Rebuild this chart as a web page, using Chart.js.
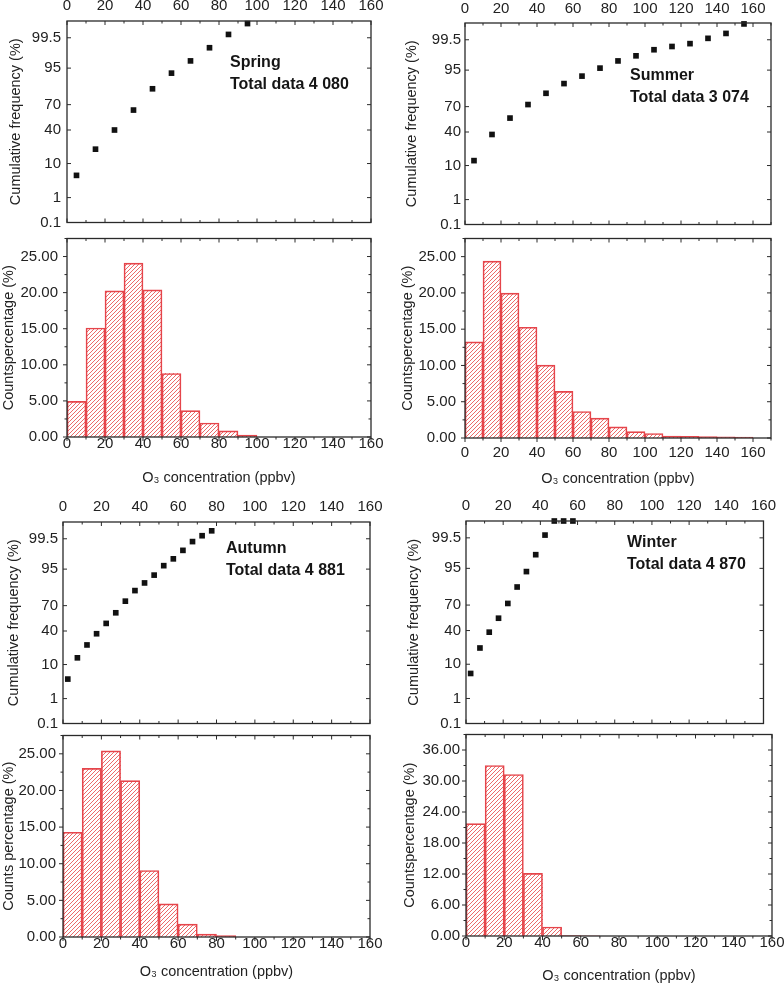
<!DOCTYPE html>
<html>
<head>
<meta charset="utf-8">
<script src="https://cdn.jsdelivr.net/npm/chart.js@4.4.1/dist/chart.umd.min.js"></script>
<style>
  body { margin: 0; background: #fff; }
  #wrap { position: relative; width: 784px; height: 987px; overflow: hidden; }
  canvas { position: absolute; }
</style>
</head>
<body>
<div id="wrap">
  <canvas id="springCum"></canvas>
  <canvas id="springHist"></canvas>
  <canvas id="summerCum"></canvas>
  <canvas id="summerHist"></canvas>
  <canvas id="autumnCum"></canvas>
  <canvas id="autumnHist"></canvas>
  <canvas id="winterCum"></canvas>
  <canvas id="winterHist"></canvas>
</div>
<script>
// ---- data ----
const probTickLabels = [0.1, 1, 10, 40, 70, 95, 99.5];

const springCumX = [5, 15, 25, 35, 45, 55, 65, 75, 85, 95];
const springCumPct = [5.0, 20.0, 40.0, 64.0, 84.4, 93.2, 96.9, 98.84, 99.63, 99.87];
const springBinMid = [5, 15, 25, 35, 45, 55, 65, 75, 85, 95];
const springPct = [4.93, 15.1, 20.25, 24.08, 20.38, 8.8, 3.65, 1.94, 0.84, 0.26];

const summerCumX = [5, 15, 25, 35, 45, 55, 65, 75, 85, 95, 105, 115, 125, 135, 145, 155];
const summerCumPct = [12.9, 37.1, 56.9, 72.2, 82.5, 89.1, 92.8, 95.6, 97.3, 98.14, 98.84, 99.11, 99.3, 99.56, 99.72, 99.89];
const summerBinMid = [5, 15, 25, 35, 45, 55, 65, 75, 85, 95, 105, 115, 125, 135, 145, 155];
const summerPct = [13.25, 24.38, 19.98, 15.27, 10.04, 6.43, 3.65, 2.73, 1.54, 0.88, 0.62, 0.26, 0.22, 0.18, 0.15, 0.13];

const autumnCumX = [2.5, 7.5, 12.5, 17.5, 22.5, 27.5, 32.5, 37.5, 42.5, 47.5, 52.5, 57.5, 62.5, 67.5, 72.5, 77.5];
const autumnCumPct = [4.2, 14.1, 24.8, 36.8, 49.2, 62.0, 74.6, 83.8, 88.9, 92.8, 96.0, 97.5, 98.68, 99.36, 99.62, 99.76];
const autumnBinMid = [5, 15, 25, 35, 45, 55, 65, 75, 85];
const autumnPct = [14.3, 23.02, 25.4, 21.35, 9.07, 4.53, 1.76, 0.4, 0.18];

const winterCumX = [2.5, 7.5, 12.5, 17.5, 22.5, 27.5, 32.5, 37.5, 42.5, 47.5, 52.5, 57.5];
const winterCumPct = [5.9, 21.6, 38.1, 54.9, 71.7, 85.9, 93.9, 98.04, 99.61, 99.9, 99.9, 99.9];
const winterBinMid = [5, 15, 25, 35, 45, 55, 65];
const winterPct = [21.75, 33.0, 31.25, 12.13, 1.75, 0.06, 0.04];

// ---- helpers ----
const FONT = "'Liberation Sans', Arial, sans-serif";
Chart.defaults.font.family = FONT;
Chart.defaults.color = '#222';
Chart.defaults.animation = false;
Chart.defaults.plugins.legend.display = false;
Chart.defaults.plugins.tooltip.enabled = false;

// inverse normal CDF (Acklam), for the probability axis
function probit(p) {
  const a = [-39.69683028665376, 220.9460984245205, -275.9285104469687, 138.357751867269, -30.66479806614716, 2.506628277459239];
  const b = [-54.47609879822406, 161.5858368580409, -155.6989798598866, 66.80131188771972, -13.28068155288572];
  const c = [-0.007784894002430293, -0.3223964580411365, -2.400758277161838, -2.549732539343734, 4.374664141464968, 2.938163982698783];
  const d = [0.007784695709041462, 0.3224671290700398, 2.445134137142996, 3.754408661907416];
  const lo = 0.02425;
  if (p < lo) {
    const q = Math.sqrt(-2 * Math.log(p));
    return (((((c[0]*q+c[1])*q+c[2])*q+c[3])*q+c[4])*q+c[5]) / ((((d[0]*q+d[1])*q+d[2])*q+d[3])*q+1);
  }
  if (p > 1 - lo) {
    const q = Math.sqrt(-2 * Math.log(1 - p));
    return -(((((c[0]*q+c[1])*q+c[2])*q+c[3])*q+c[4])*q+c[5]) / ((((d[0]*q+d[1])*q+d[2])*q+d[3])*q+1);
  }
  const q = p - 0.5, r = q * q;
  return (((((a[0]*r+a[1])*r+a[2])*r+a[3])*r+a[4])*r+a[5])*q / (((((b[0]*r+b[1])*r+b[2])*r+b[3])*r+b[4])*r+1);
}

// "///" hatch inside every bar, pixel-stepped so it stays crisp
const barHatch = {
  id: 'barHatch',
  beforeDatasetsDraw(chart, args, o) {
    if (!o.color) return;
    const { ctx } = chart;
    const meta = chart.getDatasetMeta(0);
    ctx.save();
    ctx.fillStyle = o.color;
    meta.data.forEach(bar => {
      const { x, y, base, width } = bar.getProps(['x', 'y', 'base', 'width'], true);
      const l = Math.round(x - width / 2), r = Math.round(x + width / 2);
      const top = Math.round(Math.min(y, base)), bot = Math.round(Math.max(y, base));
      for (let py = top; py < bot; py++) {
        for (let px = l; px < r; px++) {
          if ((px + py) % o.gap === 0) ctx.fillRect(px, py, 1, 1);
        }
      }
    });
    ctx.restore();
  }
};

// box + inward/outward tick marks, Origin style
const frameTicks = {
  id: 'frameTicks',
  afterDatasetsDraw(chart, args, o) {
    const { ctx, chartArea: a } = chart;
    const xs = chart.scales.x, ys = chart.scales.y;
    const dir = s => s === 'in' ? 1 : s === 'out' ? -1 : 0;
    const seg = (x1, y1, x2, y2) => { ctx.beginPath(); ctx.moveTo(x1, y1); ctx.lineTo(x2, y2); ctx.stroke(); };
    ctx.save();
    ctx.strokeStyle = '#2a2a2a';
    ctx.lineWidth = 1.3;
    ctx.strokeRect(a.left, a.top, a.width, a.height);
    ctx.lineWidth = 1;
    for (let v = xs.min; v <= xs.max + 1e-9; v += o.xMinor) {
      const px = xs.getPixelForValue(v);
      const len = Math.abs(v % o.xMajor) < 1e-9 ? 4 : 2.5;
      seg(px, a.top, px, a.top + dir(o.top) * len);
      seg(px, a.bottom, px, a.bottom - dir(o.bottom) * len);
    }
    let yMarks;
    if (o.yMinor) {
      yMarks = [];
      for (let v = ys.min; v <= ys.max + 1e-9; v += o.yMinor) yMarks.push([ys.getPixelForValue(v), Math.abs(v % o.yMajor) < 1e-9]);
    } else {
      yMarks = ys.ticks.map(t => [ys.getPixelForValue(t.value), true]);
    }
    yMarks.forEach(([py, major]) => {
      const len = major ? 4 : 2.5;
      seg(a.left, py, a.left + dir(o.left) * len, py);
      seg(a.right, py, a.right - dir(o.right) * len, py);
    });
    ctx.restore();
  }
};

const seasonNote = {
  id: 'seasonNote',
  afterDraw(chart, args, o) {
    if (!o.lines) return;
    const { ctx, chartArea: a } = chart;
    ctx.save();
    ctx.font = 'bold 16px ' + FONT;
    ctx.fillStyle = '#151515';
    ctx.textBaseline = 'middle';
    o.lines.forEach((t, i) => ctx.fillText(t, a.left + o.dx, a.top + o.dy + i * 22));
    ctx.restore();
  }
};
Chart.register(barHatch, frameTicks, seasonNote);

function place(id, L) {
  const c = document.getElementById(id);
  c.width = L.w; c.height = L.h;
  c.style.left = L.x + 'px';
  c.style.top = L.y + 'px';
  return c;
}

const tickFont = { size: 15, lineHeight: 1 };
const titleFont = { size: 14.5 };

function makeCum(id, L, xs, pct, xMax, note) {
  const ctx = place(id, L);
  return new Chart(ctx, {
    type: 'scatter',
    data: {
      datasets: [{
        data: xs.map((x, i) => ({ x: x, y: probit(pct[i] / 100) })),
        pointStyle: 'rect',
        pointRadius: 4,
        backgroundColor: '#111',
        borderColor: '#111',
        borderWidth: 0,
        clip: false
      }]
    },
    options: {
      responsive: false,
      devicePixelRatio: 1,
      layout: { padding: { left: 0, right: L.padR, top: 0, bottom: L.padB } },
      scales: {
        x: {
          type: 'linear', position: 'top', min: 0, max: xMax,
          grid: { display: false, drawTicks: false }, border: { display: false },
          ticks: { stepSize: 20, includeBounds: false, autoSkip: false, maxRotation: 0, padding: L.xTickPad, font: tickFont },
          afterFit: s => { s.height = L.axisH; }
        },
        y: {
          position: 'left', min: probit(0.001), max: probit(0.999),
          grid: { display: false, drawTicks: false }, border: { display: false },
          afterBuildTicks: s => { s.ticks = probTickLabels.map(p => ({ value: probit(p / 100) })); },
          ticks: { autoSkip: false, padding: L.tickPad, font: tickFont, callback: (v, i) => String(probTickLabels[i]) },
          title: { display: true, text: 'Cumulative frequency (%)', font: titleFont, padding: { top: L.titlePad, bottom: 0 } },
          afterFit: s => { s.width = L.axisW; }
        }
      },
      plugins: {
        frameTicks: { xMajor: 20, xMinor: 10, top: 'in', bottom: 'in', left: 'in', right: 'in' },
        seasonNote: note
      }
    }
  });
}

function makeHist(id, L, mids, pct, xMax, yMax, yStep, yTitle) {
  const ctx = place(id, L);
  return new Chart(ctx, {
    type: 'bar',
    data: {
      datasets: [{
        data: mids.map((x, i) => ({ x: x, y: pct[i] })),
        backgroundColor: 'rgba(255,255,255,0)',
        borderColor: '#e5454b',
        borderWidth: 1,
        barPercentage: 1,
        categoryPercentage: 1
      }]
    },
    options: {
      responsive: false,
      devicePixelRatio: 1,
      layout: { padding: { left: 0, right: L.padR, top: L.padT, bottom: 0 } },
      scales: {
        x: {
          type: 'linear', position: 'bottom', min: 0, max: xMax, offset: false,
          grid: { display: false, drawTicks: false }, border: { display: false },
          ticks: { stepSize: 20, includeBounds: false, autoSkip: false, maxRotation: 0, padding: L.xTickPad, font: tickFont },
          title: { display: true, text: 'O\u2083 concentration (ppbv)', font: titleFont, padding: { top: 0, bottom: L.xTitlePad } },
          afterFit: s => { s.height = L.axisH; }
        },
        y: {
          position: 'left', min: 0, max: yMax,
          grid: { display: false, drawTicks: false }, border: { display: false },
          ticks: { stepSize: yStep, includeBounds: false, autoSkip: false, padding: L.tickPad, font: tickFont, callback: v => v.toFixed(2) },
          title: { display: true, text: yTitle, font: titleFont, padding: { top: L.titlePad, bottom: 0 } },
          afterFit: s => { s.width = L.axisW; }
        }
      },
      plugins: {
        barHatch: { color: '#ec6a6a', gap: 4 },
        frameTicks: { xMajor: 20, xMinor: 10, yMajor: yStep, yMinor: yStep / 2, top: 'in', bottom: 'out', left: 'out', right: 'in' }
      }
    }
  });
}

// ---- panels ----
makeCum('springCum', { x: 0, y: 0, w: 392, h: 236, axisW: 67, axisH: 21, padR: 21, padB: 7, tickPad: 6, titlePad: 7, xTickPad: 8 },
  springCumX, springCumPct, 160, { lines: ['Spring', 'Total data 4 080'], dx: 163, dy: 42 });
makeHist('springHist', { x: 0, y: 222, w: 392, h: 268, axisW: 67, axisH: 53, padR: 21, padT: 7, tickPad: 9, titlePad: 0, xTickPad: -1, xTitlePad: 3 },
  springBinMid, springPct, 160, 27.5, 5, 'Countspercentage (%)');

makeCum('summerCum', { x: 392, y: 0, w: 392, h: 236, axisW: 73, axisH: 23, padR: 13, padB: 7, tickPad: 4, titlePad: 11, xTickPad: 7 },
  summerCumX, summerCumPct, 170, { lines: ['Summer', 'Total data 3 074'], dx: 165, dy: 53 });
makeHist('summerHist', { x: 392, y: 222, w: 392, h: 268, axisW: 73, axisH: 52, padR: 13, padT: 7, tickPad: 9, titlePad: 7, xTickPad: 7, xTitlePad: 2 },
  summerBinMid, summerPct, 170, 27.5, 5, 'Countspercentage (%)');

makeCum('autumnCum', { x: 0, y: 500, w: 392, h: 236, axisW: 63, axisH: 22, padR: 22, padB: 8, tickPad: 5, titlePad: 5, xTickPad: 8 },
  autumnCumX, autumnCumPct, 160, { lines: ['Autumn', 'Total data 4 881'], dx: 163, dy: 27 });
makeHist('autumnHist', { x: 0, y: 721, w: 392, h: 266, axisW: 63, axisH: 50, padR: 22, padT: 7, tickPad: 7, titlePad: 0, xTickPad: -1, xTitlePad: 6 },
  autumnBinMid, autumnPct, 160, 27.5, 5, 'Counts percentage (%)');

makeCum('winterCum', { x: 392, y: 500, w: 392, h: 236, axisW: 74, axisH: 21, padR: 12, padB: 8, tickPad: 5, titlePad: 13, xTickPad: 8 },
  winterCumX, winterCumPct, 160, { lines: ['Winter', 'Total data 4 870'], dx: 161, dy: 22 });
makeHist('winterHist', { x: 392, y: 721, w: 392, h: 266, axisW: 74, axisH: 51, padR: 12, padT: 7, tickPad: 6, titlePad: 9, xTickPad: -1, xTitlePad: 2 },
  winterBinMid, winterPct, 160, 39, 6, 'Countspercentage (%)');
</script>
</body>
</html>
